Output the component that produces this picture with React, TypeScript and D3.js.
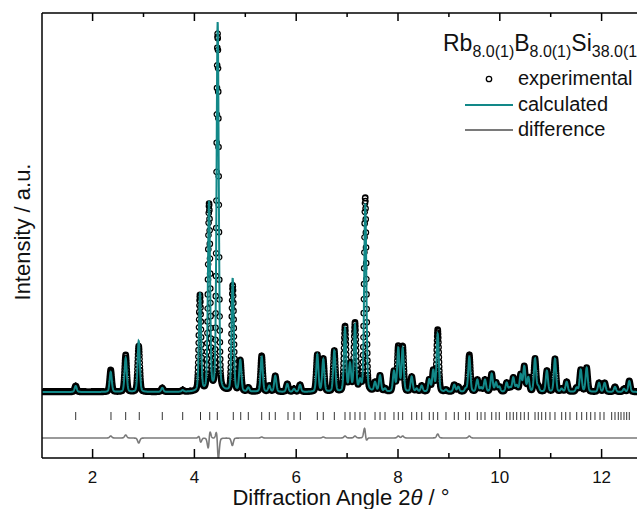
import React, { useMemo } from "react";
import * as d3 from "d3";

const WIDTH = 637;
const HEIGHT = 509;

const peakPos = [1.668, 2.356, 2.65, 2.906, 3.369, 3.77, 4.11, 4.287, 4.457, 4.752, 4.902, 5.059, 5.322, 5.472, 5.589, 5.825, 5.957, 6.075, 6.415, 6.532, 6.749, 6.959, 7.057, 7.155, 7.253, 7.357, 7.549, 7.647, 7.745, 7.921, 8.006, 8.092, 8.269, 8.367, 8.466, 8.615, 8.693, 8.78, 8.943, 9.106, 9.185, 9.33, 9.401, 9.558, 9.631, 9.709, 9.841, 9.925, 9.99, 10.135, 10.2, 10.265, 10.332, 10.411, 10.481, 10.56, 10.692, 10.756, 10.925, 11.084, 11.216, 11.314, 11.511, 11.59, 11.707, 11.95, 12.06, 12.263, 12.44, 12.544];
const calcHeight = [6, 20, 34, 51, 4, 1.5, 98, 189, 369, 113, 31, 4, 35, 6, 16, 8, 3, 7, 37, 32, 41, 63, 27, 66, 10, 188, 9, 16, 3, 20, 43, 43, 15, 3, 6, 12, 21, 58, 2, 7, 5, 3, 35, 12, 4, 12, 18, 9, 5, 9, 4, 14, 6, 17, 25, 14, 33, 5, 21, 33, 3, 10, 4, 22, 24, 9, 9, 5, 3, 11];
const obsHeight = [6, 22, 37, 46, 4, 1.5, 96, 186, 357, 106, 31, 4, 36, 6, 16, 8, 3, 7, 37, 33, 41, 65, 27, 68, 10, 194, 9, 16, 3, 20, 45, 45, 15, 3, 6, 12, 21, 62, 2, 7, 5, 3, 37, 12, 4, 12, 18, 9, 5, 9, 4, 14, 6, 17, 25, 14, 33, 5, 21, 33, 3, 10, 4, 22, 24, 9, 9, 5, 3, 11];
const obsShift = [0, 0, 0, 0, 0, 0, -0.001, 0.0015, -0.0012, 0.0005, 0, 0, 0, 0, 0, 0, 0, 0, 0, 0, 0, 0, 0, 0, 0, -0.001, 0, 0, 0, 0, 0, 0, 0, 0, 0, 0, 0, 0, 0, 0, 0, 0, 0, 0, 0, 0, 0, 0, 0, 0, 0, 0, 0, 0, 0, 0, 0, 0, 0, 0, 0, 0, 0, 0, 0, 0, 0, 0, 0, 0];

// reflection tick positions (°2θ)
const reflections = [1.668, 2.361, 2.65, 2.917, 3.369, 3.77, 4.12, 4.301, 4.45, 4.764, 4.91, 5.059, 5.322, 5.472, 5.589, 5.839, 5.957, 6.081, 6.415, 6.532, 6.749, 6.959, 7.057, 7.155, 7.253, 7.352, 7.549, 7.647, 7.745, 7.921, 8.006, 8.092, 8.269, 8.367, 8.466, 8.615, 8.693, 8.78, 8.943, 9.106, 9.185, 9.33, 9.401, 9.558, 9.631, 9.709, 9.841, 9.925, 9.99, 10.135, 10.2, 10.265, 10.332, 10.411, 10.481, 10.56, 10.692, 10.756, 10.823, 10.902, 10.986, 11.084, 11.216, 11.295, 11.379, 11.511, 11.609, 11.707, 11.786, 11.87, 11.969, 12.047, 12.198, 12.263, 12.328, 12.381, 12.44, 12.493, 12.544];

const majorTicks = [2, 4, 6, 8, 10, 12];
const minorTicks = [3, 5, 7, 9, 11, 13];
const legendLabels = ["experimental", "calculated", "difference"];
const formulaParts: [string, string][] = [["Rb", "8.0(1)"], ["B", "8.0(1)"], ["Si", "38.0(1)"]];

const FWHM = 0.05;
const ETA = 0.25;
const STEP = 0.003;
const DIFF_OFFSET = -46;
const TICK_TOP = -20;
const TICK_BOTTOM = -28;

const TEAL = "#128888";
const GRAY = "#7a7a7a";
const FONT = "'Liberation Sans', Arial, sans-serif";

function profile(x: number, pos: number, h: number) {
  const d = x - pos;
  const q = (d * d) / (FWHM * FWHM);
  const g = Math.exp(-4 * Math.LN2 * q);
  const l = 1 / (1 + 4 * q);
  return h * ((1 - ETA) * g + ETA * l);
}

export default function App() {
  const left = 41.7;
  const x = d3.scaleLinear().domain([1, 13]).range([left, left + 12 * 50.9]);
  const y = d3.scaleLinear().domain([-66, 379]).range([458, 13]);

  const { calcPath, obsPath, diffPath } = useMemo(() => {
    const xs = d3.range(1, 12.8, STEP);
    const calc = xs.map((t) => {
      let s = 0;
      for (let i = 0; i < peakPos.length; i++) {
        if (Math.abs(t - peakPos[i]) < 1.2) s += profile(t, peakPos[i], calcHeight[i]);
      }
      return s;
    });
    const obs = xs.map((t) => {
      let s = 0;
      for (let i = 0; i < peakPos.length; i++) {
        if (Math.abs(t - peakPos[i]) < 1.2) s += profile(t, peakPos[i] + obsShift[i], obsHeight[i]);
      }
      return s;
    });
    const line = d3.line<[number, number]>().x((d) => x(d[0])).y((d) => y(d[1]));
    const calcPath = line(xs.map((t, i) => [t, calc[i]])) || "";
    const diffPath = line(xs.map((t, i) => [t, DIFF_OFFSET + obs[i] - calc[i]])) || "";
    const r = 2.7;
    let op = "";
    xs.forEach((t, i) => {
      const cx = x(t);
      const cy = y(obs[i]);
      op += `M${(cx + r).toFixed(2)},${cy.toFixed(2)}a${r},${r} 0 1,0 ${-2 * r},0a${r},${r} 0 1,0 ${2 * r},0`;
    });
    return { calcPath, obsPath: op, diffPath };
  }, []);

  const plotRight = 700;
  return (
    <div style={{ position: "fixed", left: 0, top: 0, width: WIDTH, height: HEIGHT, background: "#fff" }}>
      <svg width={WIDTH} height={HEIGHT} style={{ display: "block" }}>
        <defs>
          <clipPath id="plotclip">
            <rect x={42} y={13} width={plotRight - 42} height={445} />
          </clipPath>
        </defs>
        <g clipPath="url(#plotclip)">
          {reflections.map((r, i) => (
            <line key={i} x1={x(r)} x2={x(r)} y1={y(TICK_TOP)} y2={y(TICK_BOTTOM)} stroke="#333" strokeWidth={1} />
          ))}
          <path d={diffPath} fill="none" stroke={GRAY} strokeWidth={1.6} />
          <path d={obsPath} fill="none" stroke="#000" strokeWidth={1.25} />
          <path d={calcPath} fill="none" stroke={TEAL} strokeWidth={2} />
        </g>
        {/* frame */}
        <line x1={42} x2={42} y1={13} y2={458} stroke="#000" strokeWidth={1.5} />
        <line x1={42} x2={plotRight} y1={13} y2={13} stroke="#000" strokeWidth={1.5} />
        <line x1={42} x2={plotRight} y1={458} y2={458} stroke="#000" strokeWidth={1.5} />
        {majorTicks.map((t) => (
          <g key={"M" + t}>
            <line x1={x(t)} x2={x(t)} y1={458} y2={449} stroke="#000" strokeWidth={1.5} />
            <line x1={x(t)} x2={x(t)} y1={13} y2={21} stroke="#000" strokeWidth={1.5} />
            <text x={x(t)} y={483} textAnchor="middle" fontFamily={FONT} fontSize={17} fill="#111">
              {t}
            </text>
          </g>
        ))}
        {minorTicks.map((t) => (
          <g key={"m" + t}>
            <line x1={x(t)} x2={x(t)} y1={458} y2={453} stroke="#000" strokeWidth={1.5} />
            <line x1={x(t)} x2={x(t)} y1={13} y2={17} stroke="#000" strokeWidth={1.5} />
          </g>
        ))}
        <text x={341} y={505} textAnchor="middle" fontFamily={FONT} fontSize={22} fill="#111">
          Diffraction Angle 2<tspan fontStyle="italic">θ</tspan> / °
        </text>
        <text transform="translate(30,232) rotate(-90)" textAnchor="middle" fontFamily={FONT} fontSize={22} fill="#111">
          Intensity / a.u.
        </text>
        {/* legend */}
        <text x={443} y={51} fontFamily={FONT} fontSize={23} fill="#111">
          {formulaParts.map(([el, sub], i) => (
            <React.Fragment key={i}>
              <tspan dy={i === 0 ? 0 : -6}>{el}</tspan>
              <tspan dy={6} fontSize={16}>{sub}</tspan>
            </React.Fragment>
          ))}
        </text>
        <circle cx={489} cy={79} r={2.7} fill="none" stroke="#000" strokeWidth={1.3} />
        <line x1={465} x2={513} y1={105} y2={105} stroke={TEAL} strokeWidth={2} />
        <line x1={465} x2={513} y1={130} y2={130} stroke={GRAY} strokeWidth={2} />
        {legendLabels.map((l, i) => (
          <text key={l} x={518} y={85 + i * 25.5} fontFamily={FONT} fontSize={20} fill="#111">
            {l}
          </text>
        ))}
      </svg>
    </div>
  );
}
